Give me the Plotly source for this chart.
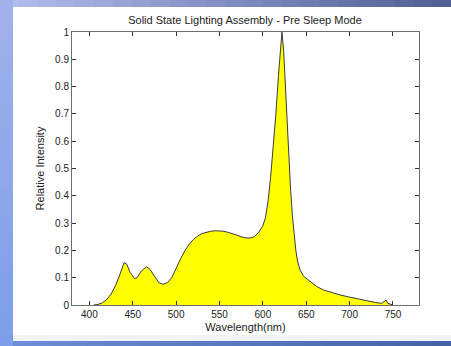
import plotly.graph_objects as go

wavelength = [405, 410, 415, 420, 425, 430, 435, 440, 443, 447, 452, 455, 460, 466, 470, 475, 480, 485,
              490, 495, 500, 505, 510, 515, 520, 525, 530, 535, 540, 545, 550, 555, 560, 565, 570, 575,
              580, 585, 590, 595, 600, 603, 606, 609, 612, 615, 618, 620, 622, 624, 626, 628, 630, 632,
              634, 636, 638, 640, 643, 647, 652, 657, 662, 670, 680, 690, 700, 710, 720, 730, 737, 740,
              742, 744, 748, 750]
intensity = [0.0, 0.002, 0.008, 0.02, 0.04, 0.07, 0.11, 0.155, 0.15, 0.12, 0.097, 0.10, 0.125, 0.14, 0.13,
             0.105, 0.082, 0.076, 0.082, 0.10, 0.135, 0.168, 0.198, 0.222, 0.24, 0.253, 0.262, 0.267, 0.27,
             0.272, 0.272, 0.27, 0.266, 0.262, 0.256, 0.25, 0.246, 0.245, 0.25, 0.265, 0.29, 0.32, 0.38,
             0.47, 0.58, 0.70, 0.84, 0.94, 1.0, 0.93, 0.80, 0.64, 0.52, 0.42, 0.33, 0.26, 0.20, 0.16,
             0.128, 0.105, 0.093, 0.08, 0.068, 0.055, 0.045, 0.036, 0.029, 0.022, 0.015, 0.009, 0.006,
             0.012, 0.018, 0.006, 0.002, 0.0]

x_ticks = [400, 450, 500, 550, 600, 650, 700, 750]
y_ticks = [0, 0.1, 0.2, 0.3, 0.4, 0.5, 0.6, 0.7, 0.8, 0.9, 1]
y_tick_text = ["0", "0.1", "0.2", "0.3", "0.4", "0.5", "0.6", "0.7", "0.8", "0.9", "1"]

W, H = 451, 346
ML, MR, MT, MB = 72, 32, 32, 41
PW, PH = W - ML - MR, H - MT - MB


def px2x(px):
    return (px - ML) / PW


def py2y(py):
    return 1 - (py - MT) / PH


fig = go.Figure()
fig.add_trace(go.Scatter(
    x=wavelength, y=intensity, mode="lines", fill="tozeroy",
    fillcolor="#ffff00", line=dict(color="#3a3a3a", width=1), showlegend=False,
    hoverinfo="skip"))

shapes = []


def lerp(c1, c2, t):
    return "rgb(%d,%d,%d)" % tuple(round(a + (b - a) * t) for a, b in zip(c1, c2))


# top strip gradient
n = 24
for i in range(n):
    x0 = i * W / n
    x1 = (i + 1) * W / n + 1
    shapes.append(dict(type="rect", xref="paper", yref="paper", layer="below",
                       x0=px2x(x0), x1=px2x(x1), y0=py2y(7), y1=py2y(0),
                       line=dict(width=0),
                       fillcolor=lerp((176, 190, 235), (80, 96, 150), i / (n - 1))))
# left strip gradient
for i in range(n):
    y0 = i * H / n
    y1 = (i + 1) * H / n + 1
    shapes.append(dict(type="rect", xref="paper", yref="paper", layer="below",
                       x0=px2x(0), x1=px2x(13), y0=py2y(y1), y1=py2y(y0),
                       line=dict(width=0),
                       fillcolor=lerp((160, 178, 235), (125, 158, 232), i / (n - 1))))
# bottom strip gradient
for i in range(n):
    x0 = 13 + i * (W - 13) / n
    x1 = 13 + (i + 1) * (W - 13) / n + 1
    shapes.append(dict(type="rect", xref="paper", yref="paper", layer="below",
                       x0=px2x(x0), x1=px2x(x1), y0=py2y(346), y1=py2y(341),
                       line=dict(width=0),
                       fillcolor=lerp((110, 140, 215), (70, 100, 165), i / (n - 1))))
# light grey band above bottom strip
shapes.append(dict(type="rect", xref="paper", yref="paper", layer="below",
                   x0=px2x(13), x1=px2x(451), y0=py2y(341), y1=py2y(335),
                   line=dict(width=0), fillcolor="#f3f3f3"))

axis_common = dict(showgrid=False, zeroline=False, showline=True, linecolor="#6e6e6e",
                   linewidth=1, mirror="ticks", ticks="inside", ticklen=4, tickcolor="#333",
                   tickfont=dict(family="Liberation Sans, Arial, sans-serif", size=10, color="#222"))

fig.update_layout(
    width=W, height=H,
    margin=dict(l=ML, r=MR, t=MT, b=MB),
    paper_bgcolor="white", plot_bgcolor="white",
    shapes=shapes,
    title=dict(text="Solid State Lighting Assembly - Pre Sleep Mode",
               x=px2x(245), xref="paper", xanchor="center",
               y=1 - 20 / H, yanchor="middle",
               font=dict(family="Liberation Sans, Arial, sans-serif", size=11, color="#222")),
    xaxis=dict(range=[380, 780], tickvals=x_ticks,
               title=dict(text="Wavelength(nm)", standoff=4,
                          font=dict(family="Liberation Sans, Arial, sans-serif", size=11, color="#222")),
               **axis_common),
    yaxis=dict(range=[0, 1], tickvals=y_ticks, ticktext=y_tick_text,
               title=dict(text="Relative Intensity", standoff=8,
                          font=dict(family="Liberation Sans, Arial, sans-serif", size=11, color="#222")),
               **axis_common),
)

fig.write_html("out.html", config={"displayModeBar": False, "staticPlot": True},
               post_script="document.body.style.margin='0';document.body.style.overflow='hidden';")
